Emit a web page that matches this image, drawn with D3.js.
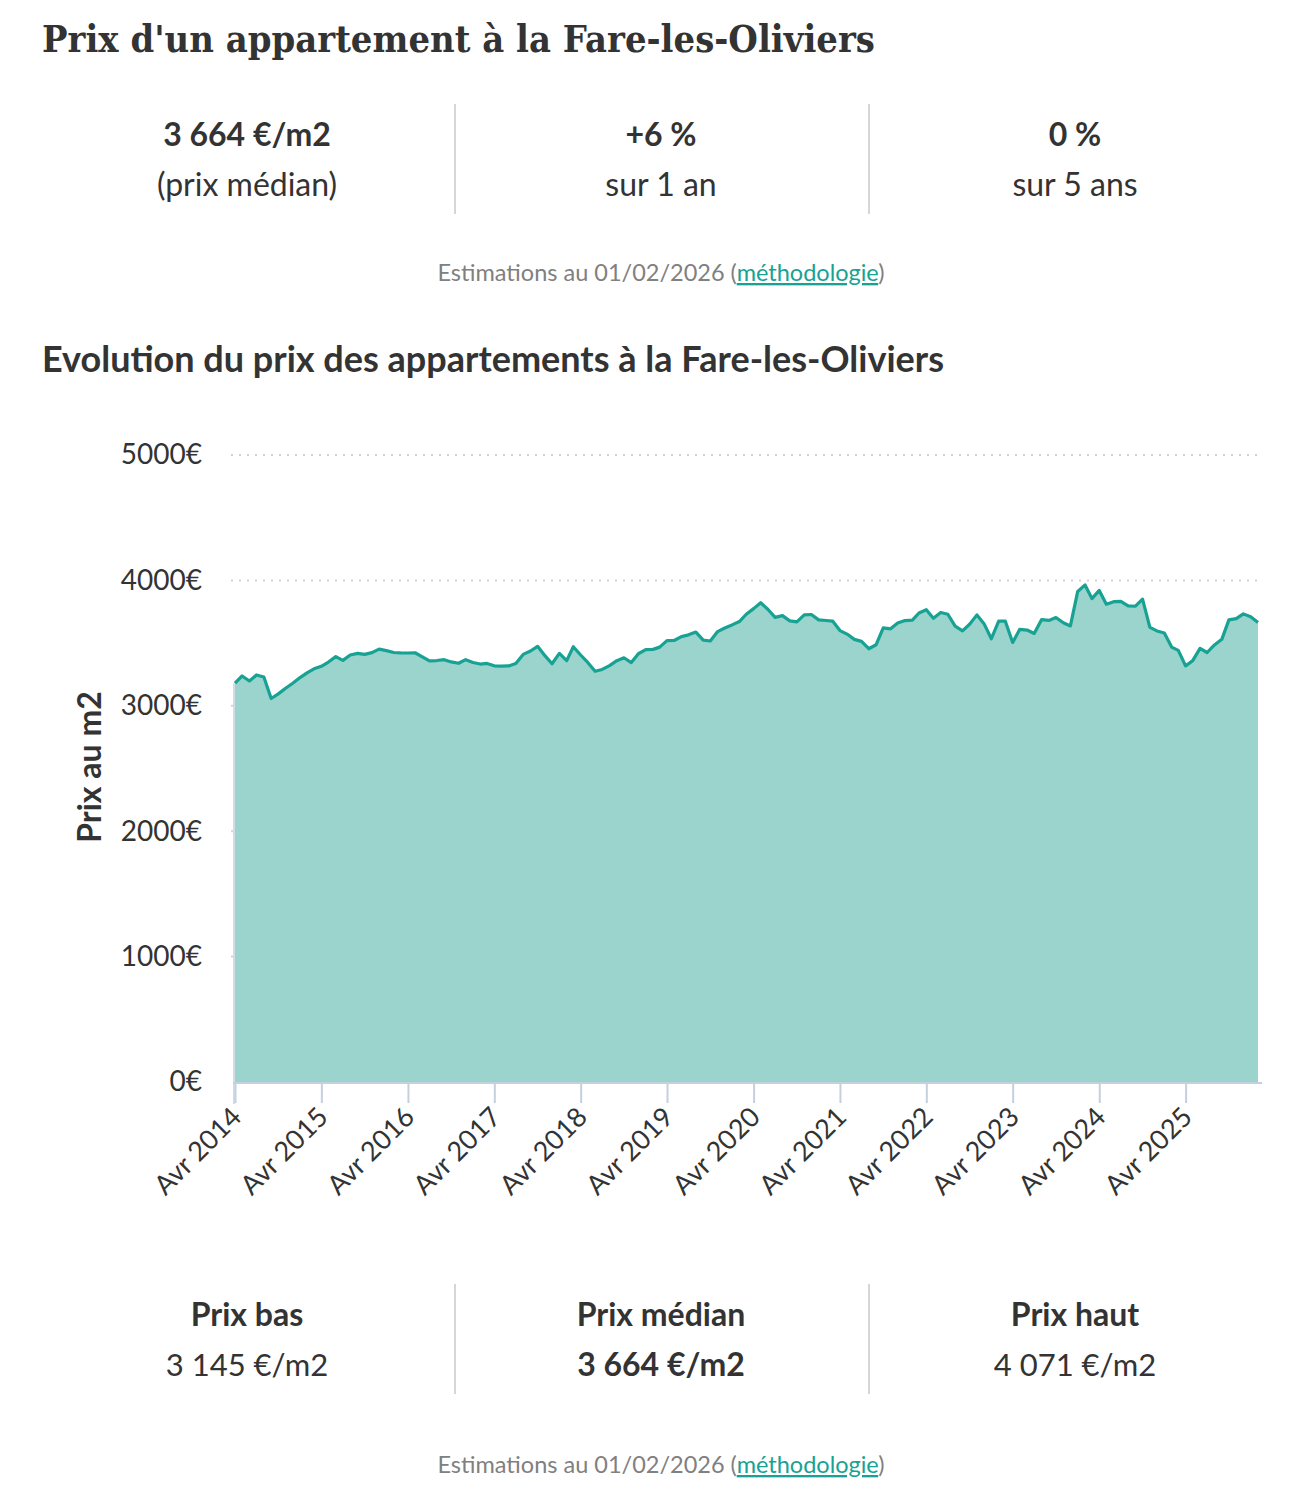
<!DOCTYPE html>
<html>
<head>
    <meta charset="utf-8">
    <script src="https://d3js.org/d3.v7.min.js"></script>
    <style>
        body { margin: 0; background: #fff; }
        text { font-family: Lato, "Noto Sans", sans-serif; fill: #333; }
    </style>
</head>
<body>
    <div id="chart"></div>

    <script>

        // valeurs mensuelles, avril 2014 -> février 2026
        const startMonth = new Date(2014, 3, 1);
        const prices = [
            3180, 3238, 3198, 3246, 3230, 3058, 3095, 3140, 3180, 3225, 3265, 3295,
            3315, 3349, 3392, 3362, 3405, 3418, 3410, 3424, 3452, 3440, 3425, 3422,
            3421, 3423, 3390, 3358, 3361, 3368, 3350, 3339, 3368, 3345, 3333, 3338,
            3319, 3317, 3318, 3338, 3410, 3437, 3474, 3400, 3335, 3418, 3360, 3471,
            3405, 3346, 3275, 3290, 3320, 3360, 3383, 3345, 3415, 3448, 3450, 3468,
            3520, 3521, 3552, 3566, 3588, 3524, 3517, 3592, 3620, 3645, 3672, 3730,
            3775, 3822, 3768, 3705, 3719, 3677, 3669, 3725, 3728, 3685, 3680, 3676,
            3600, 3572, 3530, 3514, 3455, 3487, 3622, 3614, 3660, 3680, 3683, 3740,
            3766, 3698, 3744, 3730, 3635, 3598, 3650, 3725, 3655, 3535, 3675, 3675,
            3505, 3610, 3604, 3577, 3687, 3681, 3704, 3662, 3637, 3912, 3964, 3855,
            3920, 3810, 3830, 3833, 3797, 3794, 3850, 3625, 3597, 3580, 3468, 3442,
            3318, 3360, 3458, 3425, 3485, 3530, 3685, 3695, 3733, 3710, 3664
        ];
        const yTicks = [0, 1000, 2000, 3000, 4000, 5000];
        const tickYears = [2014, 2015, 2016, 2017, 2018, 2019, 2020, 2021, 2022, 2023, 2024, 2025];

        const topStats = [
            {big: "3 664 €/m2", small: "(prix médian)"},
            {big: "+6 %", small: "sur 1 an"},
            {big: "0 %", small: "sur 5 ans"}
        ];
        const bottomStats = [
            {label: "Prix bas", value: "3 145 €/m2", bold: false},
            {label: "Prix médian", value: "3 664 €/m2", bold: true},
            {label: "Prix haut", value: "4 071 €/m2", bold: false}
        ];

        const data = prices.map((v, i) => ({date: d3.timeMonth.offset(startMonth, i), value: v}));

        const W = 1300, H = 1492;
        const svg = d3.select("#chart").append("svg")
            .attr("width", W)
            .attr("height", H);

        ////////////////////////////////////////////////////////////////////////////////
        // titre + stats du haut

        svg.append("text")
            .attr("x", 42).attr("y", 52)
            .attr("font-weight", "bold")
            .attr("font-size", 38)
            .attr("textLength", 833)
            .attr("lengthAdjust", "spacingAndGlyphs")
            .style("font-family", "'DejaVu Serif', serif")
            .text("Prix d'un appartement à la Fare-les-Oliviers");

        const colX = [247, 661, 1075];

        function statsBlock(rows, y0, isBottom) {
            [455, 869].forEach(x => {
                svg.append("line")
                    .attr("x1", x).attr("x2", x)
                    .attr("y1", y0).attr("y2", y0 + 110)
                    .attr("stroke", "#d6d6d6").attr("stroke-width", 2);
            });
            rows.forEach((d, i) => {
                svg.append("text")
                    .attr("x", colX[i]).attr("y", y0 + 42)
                    .attr("text-anchor", "middle")
                    .attr("font-size", 32)
                    .attr("font-weight", "bold")
                    .text(isBottom ? d.label : d.big);
                svg.append("text")
                    .attr("x", colX[i]).attr("y", y0 + 92)
                    .attr("text-anchor", "middle")
                    .attr("font-size", isBottom && !d.bold ? 31 : 32)
                    .attr("font-weight", isBottom && d.bold ? "bold" : "normal")
                    .text(isBottom ? d.value : d.small);
            });
        }

        function footnote(y) {
            const t = svg.append("text")
                .attr("x", 661).attr("y", y)
                .attr("text-anchor", "middle")
                .attr("font-size", 23.5)
                .style("fill", "#808080");
            t.append("tspan").text("Estimations au 01/02/2026 (");
            t.append("tspan").text("méthodologie")
                .style("fill", "#17a294")
                .style("text-decoration", "underline");
            t.append("tspan").text(")");
        }

        statsBlock(topStats, 104, false);
        footnote(281);

        svg.append("text")
            .attr("x", 42).attr("y", 372)
            .attr("font-size", 36)
            .attr("font-weight", "bold")
            .text("Evolution du prix des appartements à la Fare-les-Oliviers");

        ////////////////////////////////////////////////////////////////////////////////
        // graphique

        const x = d3.scaleTime()
            .domain([startMonth, data[data.length - 1].date])
            .range([235, 1258]);
        const y = d3.scaleLinear()
            .domain([0, 5000])
            .range([1082, 455]);

        // grille pointillée
        svg.append("g")
            .selectAll("line")
            .data(yTicks.filter(d => d > 0))
            .enter()
            .append("line")
            .attr("x1", 231).attr("x2", 1260)
            .attr("y1", d => y(d)).attr("y2", d => y(d))
            .attr("stroke", "#d3d3d3")
            .attr("stroke-width", 2)
            .attr("stroke-dasharray", "2,6");

        const area = d3.area()
            .x(d => x(d.date))
            .y0(y(0))
            .y1(d => y(d.value));
        const line = d3.line()
            .x(d => x(d.date))
            .y(d => y(d.value));

        svg.append("path")
            .datum(data)
            .attr("d", area)
            .attr("fill", "#9ad4cc");

        svg.append("path")
            .datum(data)
            .attr("d", line)
            .attr("fill", "none")
            .attr("stroke", "#17a294")
            .attr("stroke-width", 3.2)
            .attr("stroke-linejoin", "round");

        // axe y (labels seulement)
        const yAxis = svg.append("g")
            .attr("transform", "translate(231,0)")
            .call(d3.axisLeft(y).tickValues(yTicks).tickSize(0).tickPadding(29)
                .tickFormat(d => d + "€"));
        yAxis.select(".domain").remove();
        yAxis.selectAll("text")
            .attr("font-size", 28)
            .style("font-family", "Lato, sans-serif")
            .style("fill", "#333");

        // axe x
        const xAxis = svg.append("g")
            .attr("transform", "translate(0,1083)")
            .call(d3.axisBottom(x)
                .tickValues(tickYears.map(yr => new Date(yr, 3, 1)))
                .tickSize(20)
                .tickSizeOuter(0)
                .tickFormat(d => "Avr " + d.getFullYear()));
        xAxis.select(".domain")
            .attr("d", "M233,0H1262")
            .attr("stroke", "#c5d0de")
            .attr("stroke-width", 2);
        xAxis.selectAll(".tick line")
            .attr("stroke", "#c5d0de")
            .attr("stroke-width", 2);
        xAxis.selectAll(".tick text")
            .attr("font-size", 27)
            .style("font-family", "Lato, sans-serif")
            .style("fill", "#333")
            .attr("text-anchor", "end")
            .attr("x", 0)
            .attr("y", 0)
            .attr("dx", 0)
            .attr("dy", "0.35em")
            .attr("transform", "translate(1,29) rotate(-45)");

        // trait vertical gauche
        svg.append("line")
            .attr("x1", 234).attr("x2", 234)
            .attr("y1", y(prices[0])).attr("y2", 1104)
            .attr("stroke", "#c5d0de").attr("stroke-width", 1.5);

        svg.append("text")
            .attr("transform", "translate(101,767) rotate(-90)")
            .attr("text-anchor", "middle")
            .attr("font-size", 32)
            .attr("font-weight", "bold")
            .text("Prix au m2");

        ////////////////////////////////////////////////////////////////////////////////
        // stats du bas

        statsBlock(bottomStats, 1284, true);
        footnote(1473);

    </script>
</body>
</html>
